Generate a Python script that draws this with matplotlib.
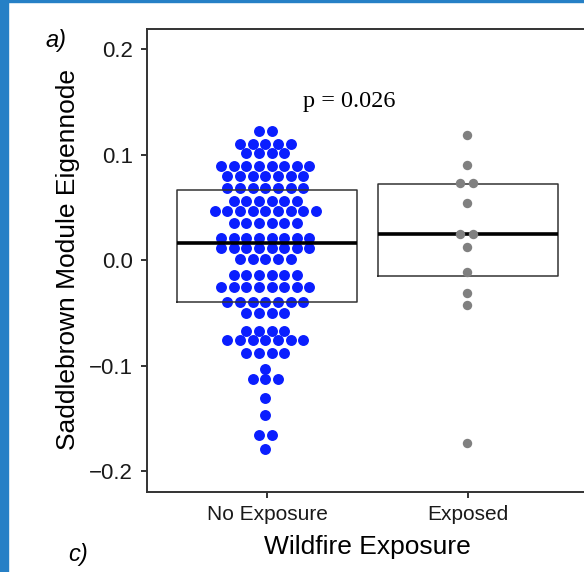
import numpy as np
import matplotlib
matplotlib.use("Agg")
from matplotlib import pyplot as plt
from matplotlib.patches import Rectangle

# eigennode values, binned into rows (value, number of dots in that row)
noexp_levels = [0.1226, 0.1100, 0.1011, 0.0891, 0.0793, 0.0682, 0.0562, 0.0462,
                0.0351, 0.0211, 0.0114, 0.0007, -0.0145, -0.0253, -0.0395, -0.0505,
                -0.0673, -0.0758, -0.0884, -0.1036, -0.1125, -0.1311, -0.1472,
                -0.1656, -0.1789]
noexp_counts = [2, 5, 4, 8, 7, 7, 6, 9, 6, 8, 8, 5, 6, 8, 7, 4, 4, 7, 4, 1, 3, 1, 1, 2, 1]

exposed_levels = [0.1185, 0.0900, 0.0733, 0.0543, 0.0246, 0.0120, -0.0111,
                  -0.0313, -0.0427, -0.1738]
exposed_counts = [1, 1, 2, 1, 2, 1, 1, 1, 1, 1]

groups = ['No Exposure', 'Exposed']
q1 = [-0.0398, -0.0155]
med = [0.0161, 0.0246]
q3 = [0.0664, 0.0717]
p_label = 'p = 0.026'

W, H = 584, 572
fig = plt.figure(figsize=(W / 100, H / 100), dpi=100)
fig.patch.set_facecolor('white')

# blue frame strips on the left and top
fig.patches.append(Rectangle((0, 0), 8 / W, 1, transform=fig.transFigure,
                             color='#2680c6', zorder=0))
fig.patches.append(Rectangle((0, 1 - 2 / H), 1, 2 / H, transform=fig.transFigure,
                             color='#2680c6', zorder=0))

ax = fig.add_axes([147 / W, 80 / H, 441 / W, 463 / H])

def stack_rows(levels, counts, center, step):
    xs, ys = [], []
    for lv, n in zip(levels, counts):
        offs = (np.arange(n) - (n - 1) / 2) * step
        xs.extend(center + offs)
        ys.extend([lv] * n)
    return np.array(xs), np.array(ys)

step = 0.063
x0, y0 = stack_rows(noexp_levels, noexp_counts, 0.99, step)
x1, y1 = stack_rows(exposed_levels, exposed_counts, 1.995, step)

ax.scatter(x0, y0, s=62, color='#0a1eff', linewidths=0, zorder=2)

stats = []
for i in range(2):
    stats.append(dict(med=med[i], q1=q1[i], q3=q3[i], whislo=q1[i], whishi=q3[i],
                      fliers=[], label=groups[i]))
ax.bxp(stats, positions=[1, 2], widths=0.9, showfliers=False, showcaps=False,
       patch_artist=False,
       boxprops=dict(color='#333333', linewidth=1.1),
       whiskerprops=dict(linewidth=0),
       medianprops=dict(color='black', linewidth=2.6, solid_capstyle='butt'),
       zorder=3)

ax.scatter(x1, y1, s=46, color='#808080', linewidths=0, zorder=4)

ax.text(1.41, 0.1453, p_label, fontsize=17.5, family='Liberation Serif',
        ha='center', va='baseline')

ax.set_xlim(0.4, 2.6)
ax.set_ylim(-0.2199, 0.219)
ax.set_xticks([1, 2])
ax.set_xticklabels(groups)
ax.set_yticks([-0.2, -0.1, 0.0, 0.1, 0.2])
ax.set_yticklabels(['\u22120.2', '\u22120.1', '0.0', '0.1', '0.2'])

for side in ['left', 'bottom', 'top', 'right']:
    ax.spines[side].set_color('#333333')
    ax.spines[side].set_linewidth(1.4)

ax.tick_params(axis='both', length=4.5, width=1.4, color='#333333',
               labelsize=15, labelcolor='#1a1a1a', pad=5,
               labelfontfamily='Liberation Sans')
ax.tick_params(axis='y', labelsize=16, pad=5.5)

fig.text(68 / W, 1 - 259 / H, 'Saddlebrown Module Eigennode', rotation=90,
         fontsize=19, family='Liberation Sans', ha='center', va='center')
fig.text(367.5 / W, 1 - 547 / H, 'Wildfire Exposure', fontsize=19,
         family='Liberation Sans', ha='center', va='center')

fig.text(56 / W, 1 - 40 / H, 'a)', fontsize=17, style='italic',
         family='Liberation Sans', ha='center', va='center')
fig.text(78 / W, 1 - 554 / H, 'c)', fontsize=17, style='italic',
         family='Liberation Sans', ha='center', va='center')

fig.savefig('out.png', dpi=100)
